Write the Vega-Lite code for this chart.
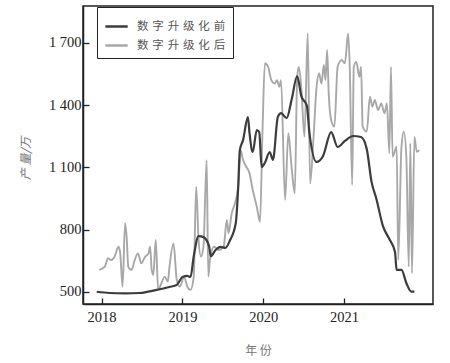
{
  "$schema": "https://vega.github.io/schema/vega-lite/v6.json",
  "width": 350,
  "height": 298,
  "autosize": {"type": "none"},
  "padding": {"left": 83, "top": 6, "right": 17, "bottom": 59},
  "background": "white",
  "config": {
    "view": {"stroke": "#222", "strokeWidth": 1.5},
    "legend": {"strokeColor": "#222"},
    "axis": {
      "domainColor": "#222", "domainWidth": 1.5, "tickColor": "#222", "tickWidth": 1.3,
      "tickSize": -6, "grid": false, "labelFont": "Liberation Serif", "labelFontSize": 14.5,
      "labelColor": "#222", "titleFont": "Noto Sans CJK SC", "titleFontSize": 12,
      "titleColor": "#777", "titleFontWeight": "normal"
    }
  },
  "data": {"values": [
    {"s":"数字升级化前","t":2017.94,"v":501},{"s":"数字升级化前","t":2018.10,"v":495},{"s":"数字升级化前","t":2018.29,"v":493},{"s":"数字升级化前","t":2018.47,"v":495},{"s":"数字升级化前","t":2018.68,"v":510},{"s":"数字升级化前","t":2018.84,"v":524},{"s":"数字升级化前","t":2018.93,"v":534},{"s":"数字升级化前","t":2019.00,"v":572},{"s":"数字升级化前","t":2019.06,"v":577},{"s":"数字升级化前","t":2019.10,"v":572},{"s":"数字升级化前","t":2019.14,"v":672},{"s":"数字升级化前","t":2019.20,"v":769},{"s":"数字升级化前","t":2019.26,"v":764},{"s":"数字升级化前","t":2019.33,"v":721},{"s":"数字升级化前","t":2019.35,"v":672},{"s":"数字升级化前","t":2019.41,"v":702},{"s":"数字升级化前","t":2019.47,"v":717},{"s":"数字升级化前","t":2019.53,"v":712},{"s":"数字升级化前","t":2019.59,"v":750},{"s":"数字升级化前","t":2019.66,"v":832},{"s":"数字升级化前","t":2019.69,"v":1005},{"s":"数字升级化前","t":2019.71,"v":1183},{"s":"数字升级化前","t":2019.75,"v":1231},{"s":"数字升级化前","t":2019.81,"v":1342},{"s":"数字升级化前","t":2019.83,"v":1265},{"s":"数字升级化前","t":2019.87,"v":1174},{"s":"数字升级化前","t":2019.92,"v":1280},{"s":"数字升级化前","t":2019.95,"v":1270},{"s":"数字升级化前","t":2019.98,"v":1102},{"s":"数字升级化前","t":2020.02,"v":1122},{"s":"数字升级化前","t":2020.08,"v":1174},{"s":"数字升级化前","t":2020.12,"v":1136},{"s":"数字升级化前","t":2020.18,"v":1342},{"s":"数字升级化前","t":2020.22,"v":1361},{"s":"数字升级化前","t":2020.29,"v":1337},{"s":"数字升级化前","t":2020.35,"v":1424},{"s":"数字升级化前","t":2020.42,"v":1540},{"s":"数字升级化前","t":2020.47,"v":1444},{"s":"数字升级化前","t":2020.54,"v":1396},{"s":"数字升级化前","t":2020.57,"v":1270},{"s":"数字升级化前","t":2020.66,"v":1126},{"s":"数字升级化前","t":2020.74,"v":1155},{"s":"数字升级化前","t":2020.84,"v":1270},{"s":"数字升级化前","t":2020.92,"v":1198},{"s":"数字升级化前","t":2021.01,"v":1227},{"s":"数字升级化前","t":2021.11,"v":1251},{"s":"数字升级化前","t":2021.21,"v":1246},{"s":"数字升级化前","t":2021.28,"v":1189},{"s":"数字升级化前","t":2021.34,"v":1030},{"s":"数字升级化前","t":2021.40,"v":948},{"s":"数字升级化前","t":2021.48,"v":818},{"s":"数字升级化前","t":2021.56,"v":755},{"s":"数字升级化前","t":2021.63,"v":692},{"s":"数字升级化前","t":2021.65,"v":606},{"s":"数字升级化前","t":2021.71,"v":606},{"s":"数字升级化前","t":2021.77,"v":543},{"s":"数字升级化前","t":2021.83,"v":502},{"s":"数字升级化前","t":2021.87,"v":502},
    {"s":"数字升级化后","t":2017.97,"v":606},{"s":"数字升级化后","t":2018.04,"v":622},{"s":"数字升级化后","t":2018.08,"v":662},{"s":"数字升级化后","t":2018.12,"v":654},{"s":"数字升级化后","t":2018.16,"v":670},{"s":"数字升级化后","t":2018.21,"v":718},{"s":"数字升级化后","t":2018.23,"v":688},{"s":"数字升级化后","t":2018.26,"v":526},{"s":"数字升级化后","t":2018.29,"v":831},{"s":"数字升级化后","t":2018.31,"v":766},{"s":"数字升级化后","t":2018.33,"v":622},{"s":"数字升级化后","t":2018.37,"v":606},{"s":"数字升级化后","t":2018.41,"v":654},{"s":"数字升级化后","t":2018.45,"v":686},{"s":"数字升级化后","t":2018.49,"v":638},{"s":"数字升级化后","t":2018.54,"v":670},{"s":"数字升级化后","t":2018.58,"v":686},{"s":"数字升级化后","t":2018.60,"v":718},{"s":"数字升级化后","t":2018.62,"v":606},{"s":"数字升级化后","t":2018.64,"v":582},{"s":"数字升级化后","t":2018.67,"v":750},{"s":"数字升级化后","t":2018.70,"v":510},{"s":"数字升级化后","t":2018.74,"v":542},{"s":"数字升级化后","t":2018.78,"v":574},{"s":"数字升级化后","t":2018.82,"v":550},{"s":"数字升级化后","t":2018.84,"v":622},{"s":"数字升级化后","t":2018.89,"v":734},{"s":"数字升级化后","t":2018.93,"v":558},{"s":"数字升级化后","t":2018.97,"v":526},{"s":"数字升级化后","t":2019.02,"v":574},{"s":"数字升级化后","t":2019.06,"v":526},{"s":"数字升级化后","t":2019.10,"v":510},{"s":"数字升级化后","t":2019.14,"v":574},{"s":"数字升级化后","t":2019.17,"v":1007},{"s":"数字升级化后","t":2019.20,"v":750},{"s":"数字升级化后","t":2019.23,"v":670},{"s":"数字升级化后","t":2019.26,"v":718},{"s":"数字升级化后","t":2019.30,"v":1135},{"s":"数字升级化后","t":2019.32,"v":574},{"s":"数字升级化后","t":2019.34,"v":654},{"s":"数字升级化后","t":2019.39,"v":718},{"s":"数字升级化后","t":2019.45,"v":702},{"s":"数字升级化后","t":2019.51,"v":718},{"s":"数字升级化后","t":2019.55,"v":847},{"s":"数字升级化后","t":2019.57,"v":783},{"s":"数字升级化后","t":2019.61,"v":879},{"s":"数字升级化后","t":2019.65,"v":927},{"s":"数字升级化后","t":2019.69,"v":1007},{"s":"数字升级化后","t":2019.72,"v":1183},{"s":"数字升级化后","t":2019.75,"v":1135},{"s":"数字升级化后","t":2019.79,"v":1103},{"s":"数字升级化后","t":2019.83,"v":1071},{"s":"数字升级化后","t":2019.87,"v":991},{"s":"数字升级化后","t":2019.92,"v":911},{"s":"数字升级化后","t":2019.96,"v":838},{"s":"数字升级化后","t":2019.99,"v":1264},{"s":"数字升级化后","t":2020.02,"v":1601},{"s":"数字升级化后","t":2020.06,"v":1584},{"s":"数字升级化后","t":2020.10,"v":1520},{"s":"数字升级化后","t":2020.14,"v":1504},{"s":"数字升级化后","t":2020.17,"v":1520},{"s":"数字升级化后","t":2020.20,"v":1488},{"s":"数字升级化后","t":2020.22,"v":1520},{"s":"数字升级化后","t":2020.27,"v":943},{"s":"数字升级化后","t":2020.31,"v":1264},{"s":"数字升级化后","t":2020.35,"v":1103},{"s":"数字升级化后","t":2020.39,"v":975},{"s":"数字升级化后","t":2020.42,"v":1536},{"s":"数字升级化后","t":2020.44,"v":1584},{"s":"数字升级化后","t":2020.47,"v":1488},{"s":"数字升级化后","t":2020.51,"v":1247},{"s":"数字升级化后","t":2020.55,"v":1745},{"s":"数字升级化后","t":2020.58,"v":1023},{"s":"数字升级化后","t":2020.62,"v":1232},{"s":"数字升级化后","t":2020.66,"v":1488},{"s":"数字升级化后","t":2020.69,"v":1553},{"s":"数字升级化后","t":2020.72,"v":1504},{"s":"数字升级化后","t":2020.75,"v":1593},{"s":"数字升级化后","t":2020.77,"v":1520},{"s":"数字升级化后","t":2020.79,"v":1665},{"s":"数字升级化后","t":2020.81,"v":1456},{"s":"数字升级化后","t":2020.84,"v":1328},{"s":"数字升级化后","t":2020.88,"v":1296},{"s":"数字升级化后","t":2020.92,"v":1584},{"s":"数字升级化后","t":2020.97,"v":1617},{"s":"数字升级化后","t":2021.01,"v":1601},{"s":"数字升级化后","t":2021.05,"v":1745},{"s":"数字升级化后","t":2021.07,"v":1584},{"s":"数字升级化后","t":2021.10,"v":1015},{"s":"数字升级化后","t":2021.12,"v":1584},{"s":"数字升级化后","t":2021.15,"v":1608},{"s":"数字升级化后","t":2021.19,"v":1536},{"s":"数字升级化后","t":2021.21,"v":1584},{"s":"数字升级化后","t":2021.23,"v":1296},{"s":"数字升级化后","t":2021.28,"v":1272},{"s":"数字升级化后","t":2021.32,"v":1440},{"s":"数字升级化后","t":2021.35,"v":1392},{"s":"数字升级化后","t":2021.38,"v":1424},{"s":"数字升级化后","t":2021.42,"v":1376},{"s":"数字升级化后","t":2021.46,"v":1408},{"s":"数字升级化后","t":2021.50,"v":1360},{"s":"数字升级化后","t":2021.53,"v":1408},{"s":"数字升级化后","t":2021.56,"v":1168},{"s":"数字升级化后","t":2021.58,"v":1584},{"s":"数字升级化后","t":2021.60,"v":1151},{"s":"数字升级化后","t":2021.65,"v":1199},{"s":"数字升级化后","t":2021.67,"v":654},{"s":"数字升级化后","t":2021.71,"v":1199},{"s":"数字升级化后","t":2021.74,"v":1272},{"s":"数字升级化后","t":2021.77,"v":1151},{"s":"数字升级化后","t":2021.80,"v":622},{"s":"数字升级化后","t":2021.82,"v":1216},{"s":"数字升级化后","t":2021.84,"v":590},{"s":"数字升级化后","t":2021.87,"v":1247},{"s":"数字升级化后","t":2021.90,"v":1175},{"s":"数字升级化后","t":2021.93,"v":1183}
  ]},
  "encoding": {
    "x": {"field": "t", "type": "quantitative",
      "scale": {"domain": [2017.77, 2022.1], "nice": false, "zero": false},
      "axis": {"values": [2018, 2019, 2020, 2021], "format": "d", "title": "年 份", "labelPadding": 12, "titleX": 175, "titleY": 46, "titleBaseline": "middle"}},
    "y": {"field": "v", "type": "quantitative",
      "scale": {"domain": [442, 1877], "nice": false, "zero": false},
      "axis": {"values": [500, 800, 1100, 1400, 1700], "labelExpr": "replace(format(datum.value, ','), ',', ' ')", "labelPadding": 8, "title": "产 量/万", "titleX": -58, "titleY": 152, "titleBaseline": "middle", "titleAngle": -90, "titleFontStyle": "italic"}},
    "color": {"field": "s", "type": "nominal",
      "scale": {"domain": ["数字升级化前", "数字升级化后"], "range": ["#3c3c3c", "#a8a8a8"]},
      "legend": {"title": null, "orient": "none", "legendX": 14, "legendY": 1, "direction": "vertical",
        "symbolType": "stroke", "symbolSize": 500, "symbolStrokeWidth": 2.5,
        "labelFont": "Noto Sans CJK SC", "labelFontSize": 11.5, "labelColor": "#555", "labelOffset": 8,
        "labelExpr": "join(split(datum.label, ''), '\u2004') + '\u3000\u3000\u2002'",
        "padding": 7, "rowPadding": 1, "strokeColor": "#222", "fillColor": "white"}}
  },
  "layer": [
    {"transform": [{"filter": "datum.s === '数字升级化后'"}], "mark": {"type": "line", "strokeWidth": 1.9, "interpolate": "monotone"}},
    {"transform": [{"filter": "datum.s === '数字升级化前'"}], "mark": {"type": "line", "strokeWidth": 2.2, "interpolate": "monotone"}}
  ]
}
